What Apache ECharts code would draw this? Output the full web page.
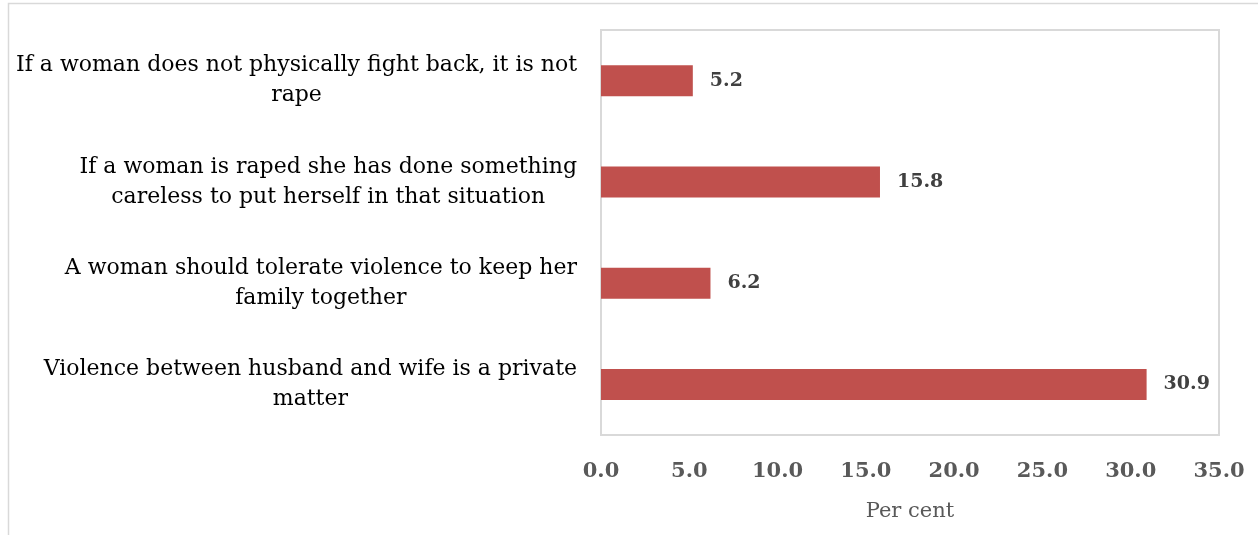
<!DOCTYPE html>
<html><head><meta charset="utf-8">
<script src="https://cdn.jsdelivr.net/npm/echarts@6/dist/echarts.min.js"></script>
<style>html,body{margin:0;padding:0;background:#fff}#c{width:1258px;height:535px}</style>
</head><body><div id="c"></div>
<script>
const categories = [
  "If a woman does not physically fight back, it is not\nrape",
  "If a woman is raped she has done something\ncareless to put herself in that situation",
  "A woman should tolerate violence to keep her\nfamily together",
  "Violence between husband and wife is a private\nmatter"
];
const values = [5.2, 15.8, 6.2, 30.9];
const xTicks = [0, 5, 10, 15, 20, 25, 30, 35];
const xAxisName = "Per cent";

const catFont = {fontFamily: 'DejaVu Serif', fontSize: 22, color: '#000', lineHeight: 30};

const chart = echarts.init(document.getElementById('c'), null, {renderer: 'canvas'});
chart.setOption({
  animation: false,
  backgroundColor: '#fff',
  graphic: [{
    type: 'rect', silent: true,
    shape: {x: 8.5, y: 3.5, width: 1300, height: 600},
    style: {fill: 'none', stroke: '#d9d9d9', lineWidth: 1.5}
  }],
  grid: {left: 601, top: 30, width: 618, height: 405, show: true, borderColor: '#d9d9d9', borderWidth: 2, containLabel: false},
  xAxis: {
    type: 'value', min: xTicks[0], max: xTicks[xTicks.length - 1], interval: 5,
    name: xAxisName, nameLocation: 'middle', nameGap: 66,
    nameTextStyle: {fontFamily: 'DejaVu Serif', fontSize: 21, color: '#595959'},
    axisLine: {show: false}, axisTick: {show: false}, splitLine: {show: false},
    axisLabel: {
      margin: 26, fontFamily: 'DejaVu Serif', fontSize: 21, fontWeight: 'bold', color: '#595959',
      formatter: v => v.toFixed(1)
    }
  },
  yAxis: {
    type: 'category', data: categories, inverse: true,
    axisLine: {show: false}, axisTick: {show: false}, splitLine: {show: false},
    axisLabel: Object.assign({
      margin: 24, align: 'right',
      formatter: v => v.split('\n').map(s => '{c|' + s + '}').join('\n'),
      rich: {c: Object.assign({align: 'center'}, catFont)}
    }, catFont)
  },
  series: [{
    type: 'bar', data: values, barWidth: 31,
    itemStyle: {color: '#C0504D'},
    label: {
      show: true, position: 'right', distance: 17,
      fontFamily: 'DejaVu Serif', fontSize: 19, fontWeight: 'bold', color: '#404040',
      formatter: p => p.value.toFixed(1)
    }
  }]
});
</script></body></html>
